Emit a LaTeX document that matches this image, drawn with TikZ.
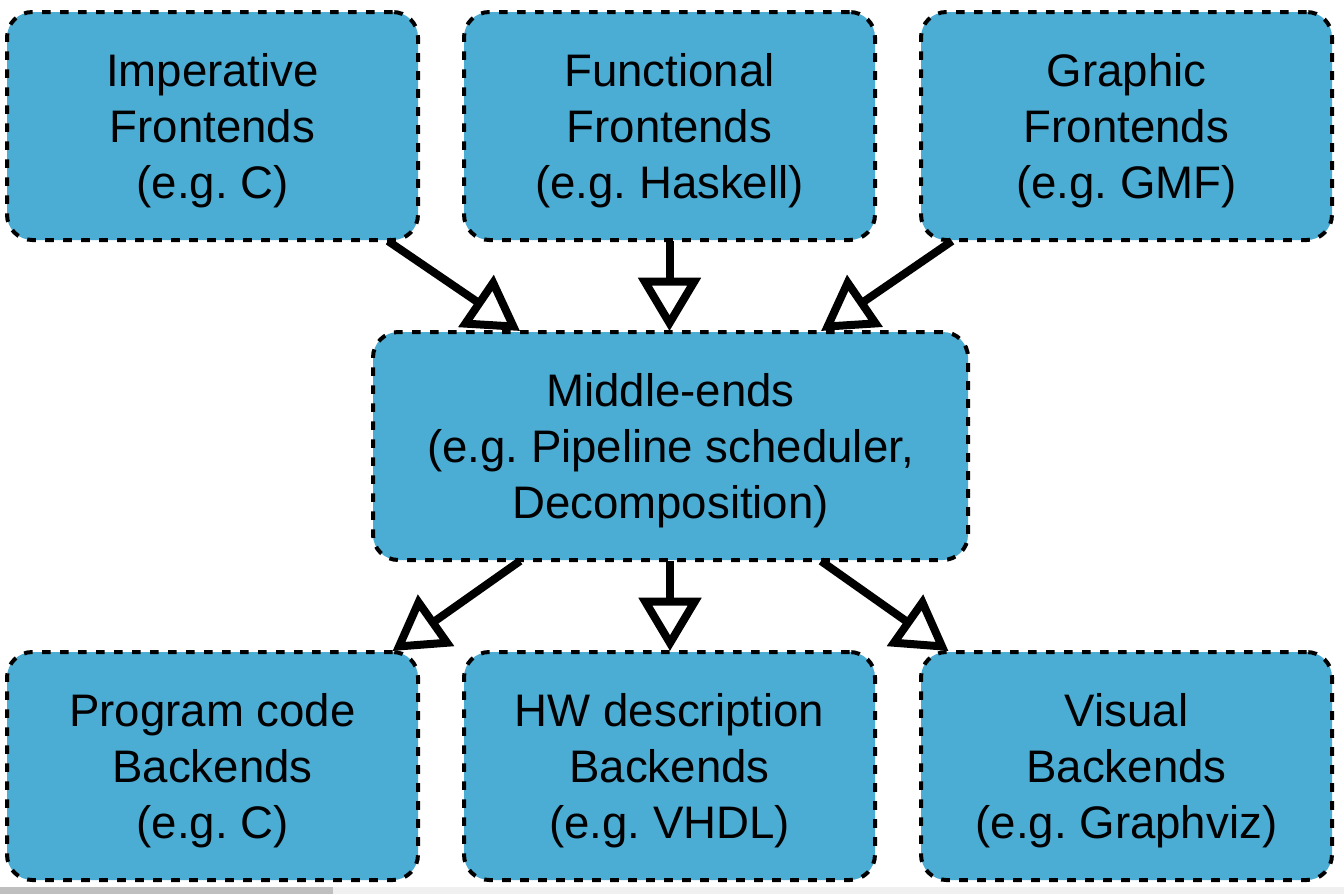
\documentclass[tikz,border=0pt]{standalone}
\usepackage{fontspec}
\setmainfont{Liberation Sans}
\usetikzlibrary{arrows.meta,calc}
\definecolor{boxblue}{RGB}{75,172,212}
\newcommand{\boxtxt}[1]{\raisebox{-3.9pt}[\height][\depth]{\begin{tabular}{@{}c@{}}#1\end{tabular}}}
\begin{document}
\frenchspacing
\begin{tikzpicture}[x=0.75pt,y=-0.75pt,
  box/.style={draw=black, fill=boxblue, line width=3pt, dash pattern=on 6.5pt off 7pt,
    rounded corners=19pt, minimum width=308.25pt, minimum height=171pt, inner sep=0pt, outer sep=0pt,
    font=\fontsize{34.2}{42}\selectfont\frenchspacing},
  arr/.style={draw=black, line width=6pt, -{Triangle[open, length=40pt, width=46pt, line width=6pt]}}]
\useasboundingbox (0,0) rectangle (1344,894);
\fill[white] (0,0) rectangle (1344,894);
\node[box] (a) at (212.5,126) {\boxtxt{Imperative\\Frontends\\(e.g. C)}};
\node[box] (b) at (669.5,126) {\boxtxt{Functional\\Frontends\\(e.g. Haskell)}};
\node[box] (c) at (1126.5,126) {\boxtxt{Graphic\\Frontends\\(e.g. GMF)}};
\node[box, minimum width=446.25pt] (m) at (670.5,446) {\boxtxt{Middle-ends\\(e.g. Pipeline scheduler,\\Decomposition)}};
\node[box] (d) at (212.5,766) {\boxtxt{Program code\\Backends\\(e.g. C)}};
\node[box] (e) at (669.5,766) {\boxtxt{HW description\\Backends\\(e.g. VHDL)}};
\node[box] (f) at (1126.5,766) {\boxtxt{Visual\\Backends\\(e.g. Graphviz)}};
\draw[arr] ($(a.south)+(175.5,1)$) -- ($(m.north)+(-150.5,-1)$);
\draw[arr] ($(b.south)+(0,1)$) -- ($(m.north)+(-1,-1)$);
\draw[arr] ($(c.south)+(-174.5,1)$) -- ($(m.north)+(150.5,-1)$);
\draw[arr] ($(m.south)+(-150.5,1)$) -- ($(d.north)+(180,-1)$);
\draw[arr] ($(m.south)+(-0.5,1)$) -- ($(e.north)+(0.5,-1)$);
\draw[arr] ($(m.south)+(150.5,1)$) -- ($(f.north)+(-178,-1)$);
\fill[black!6] (0,887) rectangle (1344,894);
\fill[black!25] (0,887) rectangle (333,894);
\end{tikzpicture}
\end{document}
